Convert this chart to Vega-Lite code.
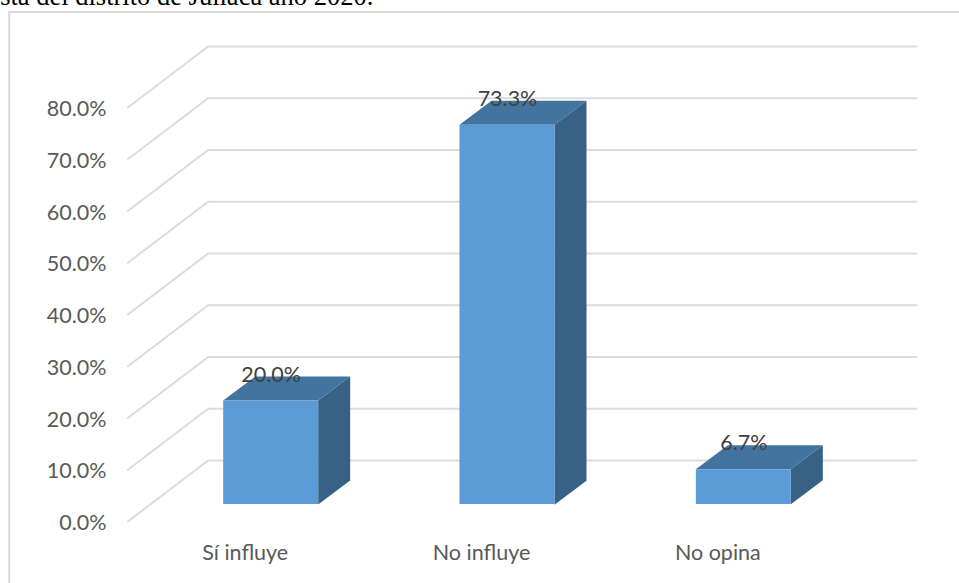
{
  "$schema": "https://vega.github.io/schema/vega-lite/v6.json",
  "width": 709,
  "height": 414,
  "autosize": "none",
  "padding": {"left": 127, "top": 108, "right": 123, "bottom": 61},
  "background": "white",
  "view": {"stroke": null},
  "datasets": {
    "bars": [
      {"categoria": "Sí influye", "porcentaje": 0.2},
      {"categoria": "No influye", "porcentaje": 0.733},
      {"categoria": "No opina", "porcentaje": 0.067}
    ],
    "ticks": [
      {"nivel": 0}, {"nivel": 0.1}, {"nivel": 0.2}, {"nivel": 0.3}, {"nivel": 0.4},
      {"nivel": 0.5}, {"nivel": 0.6}, {"nivel": 0.7}, {"nivel": 0.8}
    ]
  },
  "data": {"name": "bars"},
  "layer": [
    {
      "data": {"values": [{"texto": "sta del distrito de Juliaca año 2020."}]},
      "mark": {"type": "text", "font": "Liberation Serif", "fontSize": 26.5, "fill": "#000000", "align": "left", "baseline": "alphabetic", "dx": -245, "dy": -103},
      "encoding": {
        "x": {"datum": "Sí influye", "type": "nominal"},
        "y": {"datum": 0.8, "type": "quantitative"},
        "text": {"field": "texto", "type": "nominal"}
      }
    },
    {
      "data": {"values": [{"marco": "borde"}]},
      "mark": {"type": "point", "filled": false, "size": 4, "opacity": 1, "stroke": "#d9d9d9", "strokeWidth": 2, "shape": "M-236 268 V-303 H714"},
      "encoding": {
        "x": {"datum": "Sí influye", "type": "nominal"},
        "y": {"datum": 0.4, "type": "quantitative"}
      }
    },
    {
      "data": {"name": "ticks"},
      "mark": {"type": "point", "filled": false, "size": 4, "opacity": 1, "stroke": "#dcdcdc", "strokeWidth": 2, "shape": "M-118 0 L-37 -61.5 H672"},
      "encoding": {
        "x": {"datum": "Sí influye", "type": "nominal"},
        "y": {"field": "nivel", "type": "quantitative"}
      }
    },
    {
      "mark": {"type": "point", "filled": true, "size": 4, "opacity": 1, "fill": "#43749f", "strokeWidth": 0, "yOffset": -18, "xOffset": 25.5, "shape": "M-47.5 0 L-15.5 -24 H79.5 L47.5 0 Z"},
      "encoding": {
        "x": {"field": "categoria", "type": "nominal"},
        "y": {"field": "porcentaje", "type": "quantitative"}
      }
    },
    {
      "mark": {"type": "point", "filled": true, "opacity": 1, "size": 4, "strokeWidth": 0, "yOffset": -18, "xOffset": 25.5, "fill": "#376286"},
      "encoding": {
        "x": {"field": "categoria", "type": "nominal"},
        "y": {"field": "porcentaje", "type": "quantitative"},
        "shape": {
          "field": "categoria",
          "type": "nominal",
          "legend": null,
          "scale": {
            "domain": ["Sí influye", "No influye", "No opina"],
            "range": [
              "M47.5 0 L79.5 -24 V80 L47.5 104 Z",
              "M47.5 0 L79.5 -24 V356 L47.5 380 Z",
              "M47.5 0 L79.5 -24 V11 L47.5 35 Z"
            ]
          }
        }
      }
    },
    {
      "mark": {"type": "bar", "size": 95, "fill": "#5b9bd5", "xOffset": 25.5, "yOffset": -18},
      "encoding": {
        "x": {
          "field": "categoria",
          "type": "nominal",
          "title": null,
          "scale": {"domain": ["Sí influye", "No influye", "No opina"], "paddingInner": 0, "paddingOuter": 0},
          "axis": {"domain": false, "ticks": false, "labelAngle": 0, "labelAlign": "center", "labelFont": "Lato", "labelFontSize": 21.5, "labelColor": "#595959", "labelPadding": 31, "grid": false}
        },
        "y": {
          "field": "porcentaje",
          "type": "quantitative",
          "title": null,
          "scale": {"domain": [0, 0.8], "nice": false},
          "axis": {"domain": false, "ticks": false, "grid": false, "format": ".1%", "values": [0, 0.1, 0.2, 0.3, 0.4, 0.5, 0.6, 0.7, 0.8], "labelFont": "Lato", "labelFontSize": 21.5, "labelColor": "#595959", "labelPadding": 21, "labelOffset": 1.5}
        }
      }
    },
    {
      "mark": {"type": "text", "font": "Lato", "fontSize": 21.5, "fill": "#404040", "dx": 26, "dy": -43, "baseline": "middle"},
      "encoding": {
        "x": {"field": "categoria", "type": "nominal"},
        "y": {"field": "porcentaje", "type": "quantitative"},
        "text": {"field": "porcentaje", "type": "quantitative", "format": ".1%"}
      }
    }
  ],
  "resolve": {"scale": {"shape": "independent"}}
}
